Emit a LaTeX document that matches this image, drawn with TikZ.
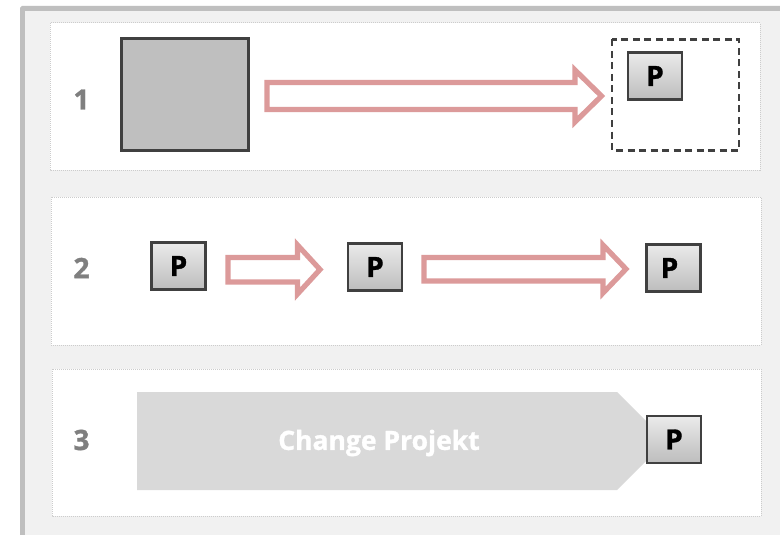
\documentclass[tikz,border=0pt]{standalone}
\usepackage{fontspec}
\setmainfont{Open Sans}
\newfontfamily\heavyfont[FakeBold=1.2]{Open Sans Bold}
\definecolor{frameg}{HTML}{BFBFBF}
\definecolor{bgg}{HTML}{F1F1F1}
\definecolor{dark}{HTML}{404040}
\definecolor{rosy}{HTML}{DC9A9A}
\definecolor{numg}{HTML}{7F7F7F}
\tikzset{
  panel/.style={draw=frameg!80,fill=white,line width=1pt,dash pattern=on 1pt off 1pt},
  pbox/.style={draw=dark,line width=2.2pt,top color=gray!16,bottom color=gray!52,minimum width=54pt,minimum height=47pt,inner sep=0pt,font=\fontsize{28}{28}\heavyfont,text=black},
  num/.style={text=numg,font=\fontsize{28}{28}\heavyfont,inner sep=0pt},
  blockarrow/.style={draw=rosy,fill=white,line width=5.2pt,miter limit=10,line join=miter}
}
\begin{document}
\begin{tikzpicture}[x=1pt,y=-1pt]
\useasboundingbox (0,0) rectangle (780,535);
\fill[white] (0,0) rectangle (780,535);
\fill[frameg] (20,535) -- (20,8) -- (22,6) -- (780,6) -- (780,535) -- cycle;
\fill[bgg] (25,11) rectangle (780,535);
\draw[panel] (50,23) rectangle (760,170);
\draw[panel] (51,197) rectangle (761,345);
\draw[panel] (52,369) rectangle (761,516);
\node[num] (n1) at (81.5,99.5) {1};
\node[num] (n2) at (81.5,268) {2};
\node[num] (n3) at (81.5,440) {3};
\draw[draw=dark,fill=frameg,line width=2.2pt] (121.5,38.5) rectangle (248.5,150.5);
\draw[draw=dark,line width=2.2pt,dash pattern=on 7pt off 4.5pt] (612,39.5) rectangle (739,150.5);
\draw[blockarrow] (267,82.5) -- (575,82.5) -- (575,70) -- (601.5,96) -- (575,122) -- (575,109.5) -- (267,109.5) -- cycle;
\draw[blockarrow] (228,257.5) -- (297.5,257.5) -- (297.5,245) -- (320,269.5) -- (297.5,294) -- (297.5,282) -- (228,282) -- cycle;
\draw[blockarrow] (424,257.5) -- (603,257.5) -- (603,245) -- (626,269) -- (603,293) -- (603,281) -- (424,281) -- cycle;
\fill[gray!30] (137,392) -- (617,392) -- (666,441) -- (617,490) -- (137,490) -- cycle;
\node[text=white,font=\fontsize{26.5}{26.5}\heavyfont,inner sep=0pt] (cp) at (379,443) {Change Projekt};
\node[pbox] (p1) at (655,76) {P};
\node[pbox] (p2) at (178.5,266) {P};
\node[pbox] (p3) at (375,267) {P};
\node[pbox] (p4) at (673.5,268) {\hspace{-8pt}P};
\node[pbox] (p5) at (674,439.5) {P};
\end{tikzpicture}
\end{document}
